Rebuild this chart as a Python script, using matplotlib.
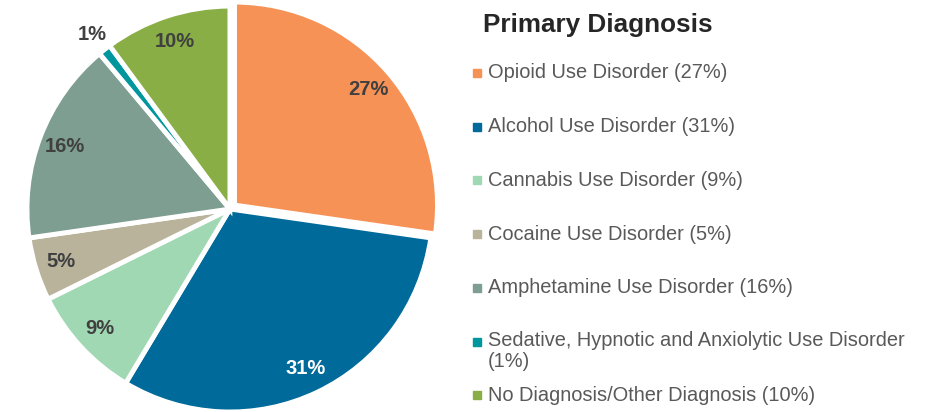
import matplotlib.pyplot as plt
from matplotlib.patches import Rectangle

plt.rcParams['font.family'] = ['Liberation Sans', 'DejaVu Sans']

labels = ["Opioid Use Disorder", "Alcohol Use Disorder", "Cannabis Use Disorder",
          "Cocaine Use Disorder", "Amphetamine Use Disorder",
          "Sedative, Hypnotic and Anxiolytic Use Disorder",
          "No Diagnosis/Other Diagnosis"]
shares = [27, 31, 9, 5, 16, 1, 10]
colors = ["#F79256", "#006A9A", "#A0D8B3", "#B8B39A", "#7F9E92", "#00969E", "#88AE45"]
label_colors = ["#404040", "white", "#404040", "#404040", "#404040", "#404040", "#404040"]
explode = [0.03, 0, 0, 0, 0, 0, 0]

fig = plt.figure(figsize=(9.33, 4.12), dpi=100)
# pie radius ~203 px, centre at (230, 209) px
ax = fig.add_axes([27 / 933, 0, 416 / 933, 1])

wedges, texts, autotexts = ax.pie(
    shares, colors=colors, startangle=90, counterclock=False, explode=explode,
    autopct=lambda p: f"{p:.0f}%", pctdistance=0.87,
    wedgeprops=dict(edgecolor="white", linewidth=3.5),
)
for t, c, v in zip(autotexts, label_colors, shares):
    t.set_text(f"{v}%")
    t.set_color(c)
    t.set_fontsize(14.5)
    t.set_fontweight("bold")
# the 1% slice is too thin, its label sits outside
x, y = autotexts[5].get_position()
autotexts[5].set_position((x * 1.26, y * 1.26))
ax.set_xlim(-1, 1.05)
ax.set_ylim(-1, 1.03)
ax.set_aspect("equal")

# legend
fig.text(483 / 933, 1 - 25 / 412, "Primary Diagnosis", fontsize=18.8, fontweight="bold",
         color="#262626", va="center", ha="left")
row_step = 53.7
for i, (lab, v, c) in enumerate(zip(labels, shares, colors)):
    yc = 73 + i * row_step
    text = f"{lab} ({v}%)"
    if i == 5:
        text = f"{lab}\n({v}%)"
    fig.add_artist(Rectangle((473 / 933, 1 - (yc + 4) / 412), 8 / 933, 8 / 412,
                             transform=fig.transFigure, color=c))
    fig.text(488 / 933, 1 - (yc - 10) / 412 if i == 5 else 1 - yc / 412, text,
             fontsize=14.4, color="#595959",
             va="top" if i == 5 else "center", ha="left", linespacing=1.1)

fig.savefig("out.png", dpi=100)
